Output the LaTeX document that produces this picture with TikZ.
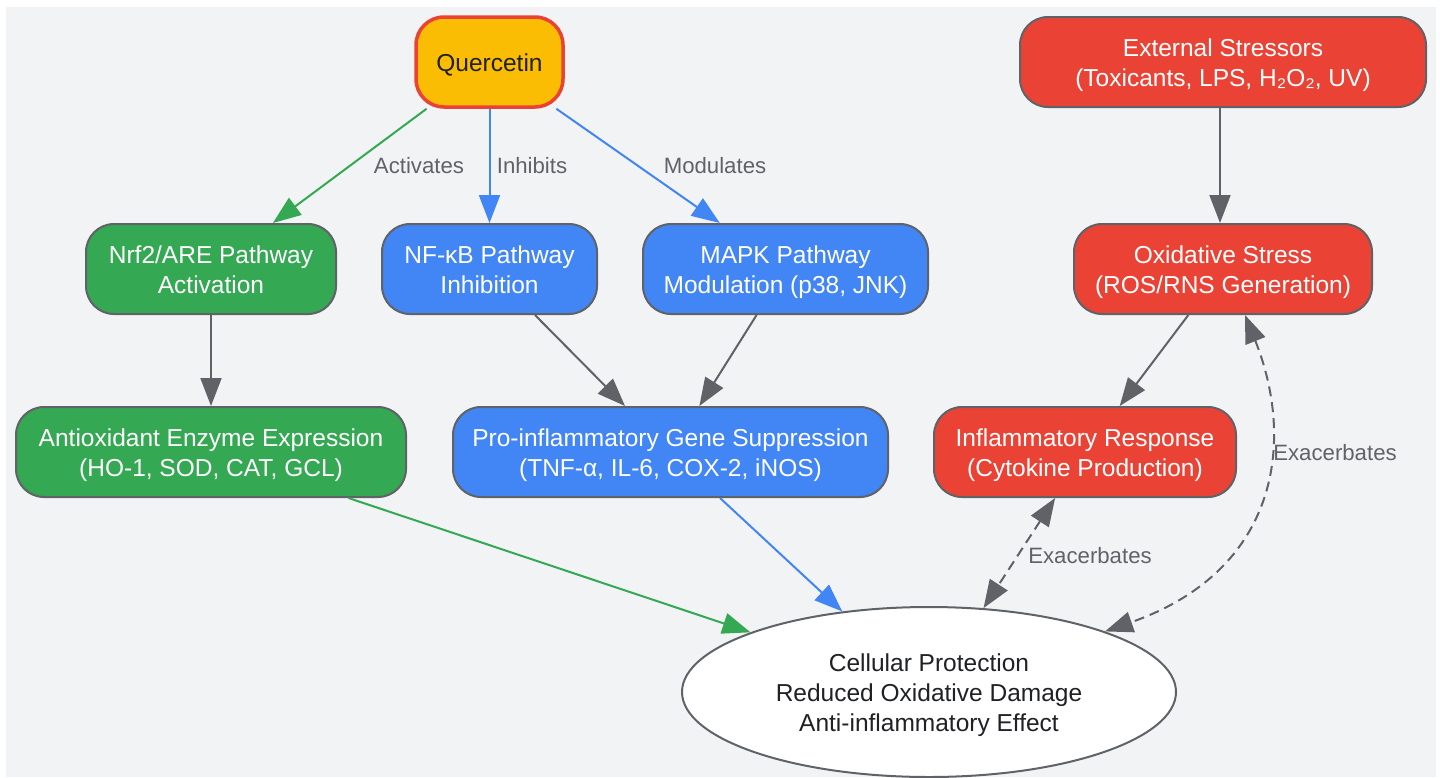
\documentclass[tikz,border=0pt]{standalone}
\usepackage{fontspec}
\setmainfont{Liberation Sans}
\usetikzlibrary{shapes.geometric,arrows.meta}
\definecolor{bgc}{HTML}{F2F3F5}
\definecolor{qfill}{HTML}{FBBC04}
\definecolor{gred}{HTML}{EA4335}
\definecolor{ggreen}{HTML}{34A853}
\definecolor{gblue}{HTML}{4285F4}
\definecolor{egrey}{HTML}{5F6368}
\definecolor{tdark}{HTML}{202124}
\newcommand\lowr[1]{\raisebox{-1.5pt}[\height][\depth]{\begin{tabular}{@{}c@{}}#1\end{tabular}}}
\begin{document}
\begin{tikzpicture}[x=0.5pt,y=-0.5pt,
  box/.style={rectangle, rounded corners=14pt, draw=egrey, line width=1pt,
    minimum height=45pt, text=white, inner sep=0pt,
    font=\fontsize{12.25}{15}\selectfont},
  greenbox/.style={box, fill=ggreen},
  bluebox/.style={box, fill=gblue},
  redbox/.style={box, fill=gred},
  lbl/.style={text=egrey, font=\fontsize{11.1}{13}\selectfont, inner sep=0pt},
  arr/.style={line width=1pt, -{Triangle[length=14pt,width=10.5pt]}},
  darr/.style={line width=1pt, dash pattern=on 5pt off 3pt,
    {Triangle[length=14pt,width=10.5pt]}-{Triangle[length=14pt,width=10.5pt]}},
]
\useasboundingbox (0,0) rectangle (1440,777);
\fill[white] (0,0) rectangle (1440,777);
\fill[bgc] (6,7) rectangle (1436,777);

\node[box, fill=qfill, draw=gred, line width=1.75pt, text=tdark, minimum width=73.5pt] (q) at (489.5,62) {\lowr{Quercetin}};
\node[redbox, minimum width=203pt] (ext) at (1223,62) {\lowr{External Stressors\\(Toxicants, LPS, H₂O₂, UV)}};
\node[greenbox, minimum width=125pt] (nrf) at (211,269) {\lowr{Nrf2/ARE Pathway\\Activation}};
\node[bluebox, minimum width=107.5pt] (nfkb) at (489.5,269) {\lowr{NF-κB Pathway\\Inhibition}};
\node[bluebox, minimum width=142.5pt] (mapk) at (785.5,269) {\lowr{MAPK Pathway\\Modulation (p38, JNK)}};
\node[redbox, minimum width=149pt] (ox) at (1223,269) {\lowr{Oxidative Stress\\(ROS/RNS Generation)}};
\node[greenbox, minimum width=195pt] (anti) at (211,452) {\lowr{Antioxidant Enzyme Expression\\(HO-1, SOD, CAT, GCL)}};
\node[bluebox, minimum width=217.5pt] (pro) at (670.5,452) {\lowr{Pro-inflammatory Gene Suppression\\(TNF-α, IL-6, COX-2, iNOS)}};
\node[redbox, minimum width=151pt] (infl) at (1085,452) {\lowr{Inflammatory Response\\(Cytokine Production)}};
\node[ellipse, draw=egrey, line width=1pt, fill=white, text=tdark, inner sep=0pt,
  minimum width=247pt, minimum height=85pt,
  font=\fontsize{12.25}{15}\selectfont] (ell) at (929,692)
  {\lowr{Cellular Protection\\Reduced Oxidative Damage\\Anti-inflammatory Effect}};

\draw[arr, ggreen] (q) -- (nrf);
\draw[arr, gblue] (q) -- (nfkb);
\draw[arr, gblue] (q) -- (mapk);
\draw[arr, egrey] (ext.south -| 1220,0) -- (ox.north -| 1220,0);
\draw[arr, egrey] (nrf) -- (anti);
\draw[arr, egrey] (nfkb) -- (pro);
\draw[arr, egrey] (mapk) -- (pro);
\draw[arr, egrey] (ox) -- (infl);
\draw[arr, ggreen] (anti) -- (ell);
\draw[arr, gblue] (pro) -- (ell);
\draw[darr, egrey] (infl) -- (ell);
\draw[darr, egrey] ([xshift=11pt]ox.south) .. controls (1295,440) and (1280,570) .. (ell.19);

\node[lbl] (l1) at (419,166) {Activates};
\node[lbl] (l2) at (532,166) {Inhibits};
\node[lbl] (l3) at (715,166) {Modulates};
\node[lbl] (l4) at (1090,556) {Exacerbates};
\node[lbl] (l5) at (1335,453) {Exacerbates};
\end{tikzpicture}
\end{document}
